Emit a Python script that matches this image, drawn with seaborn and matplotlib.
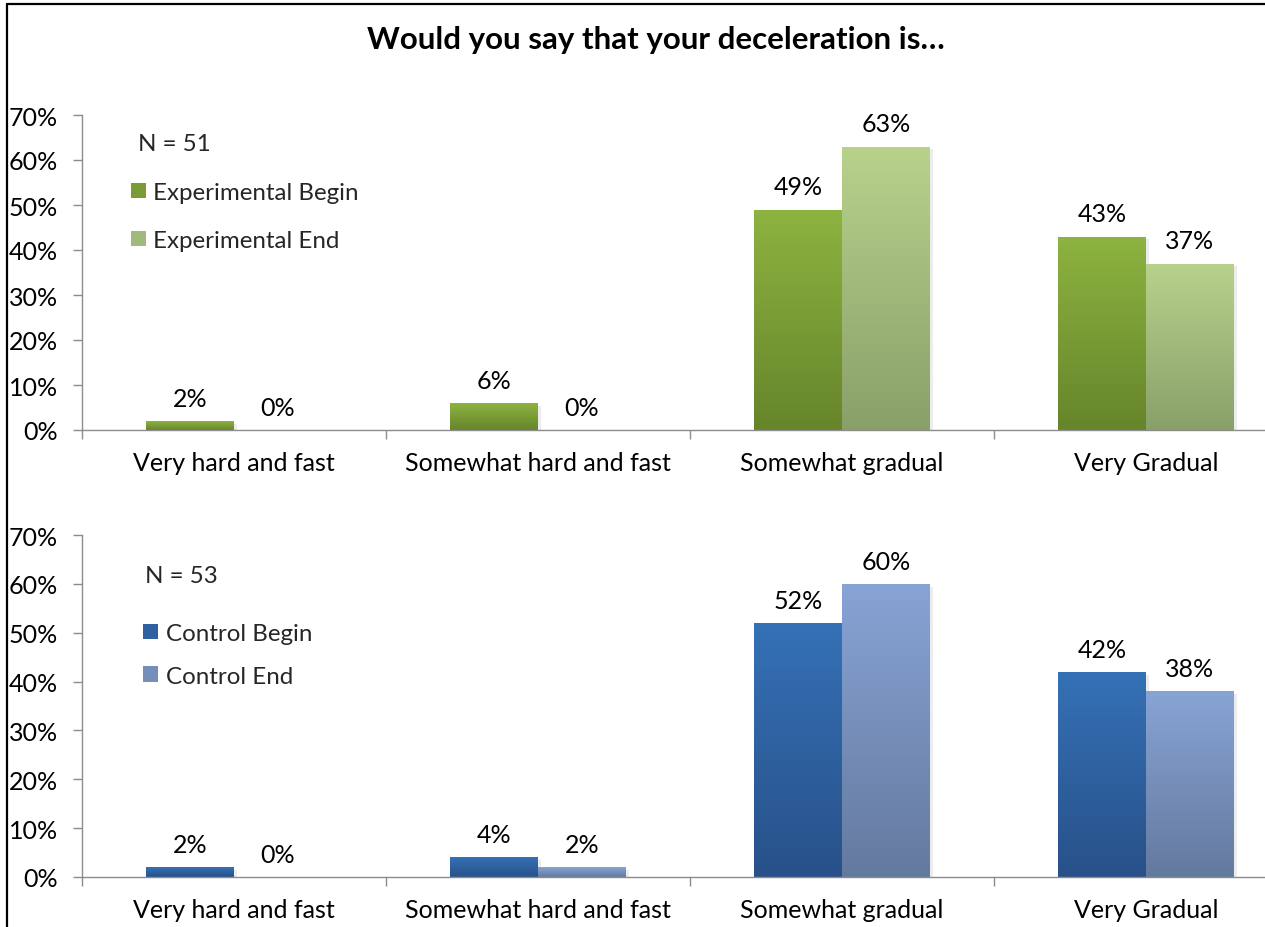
import numpy as np
import pandas as pd
import matplotlib
matplotlib.use("Agg")
import matplotlib.pyplot as plt
import seaborn as sns
from matplotlib.lines import Line2D
from matplotlib.patches import Patch
from matplotlib import patheffects as pe

# Survey answers: share of respondents per answer (percent)
categories = ["Very hard and fast", "Somewhat hard and fast", "Somewhat gradual", "Very Gradual"]
exp_begin = [2, 6, 49, 43]
exp_end = [0, 0, 63, 37]
ctl_begin = [2, 4, 52, 42]
ctl_end = [0, 2, 60, 38]
exp_n = 51
ctl_n = 53
title = "Would you say that your deceleration is…"
y_ticks = [0, 10, 20, 30, 40, 50, 60, 70]

# top/bottom gradient colours per series
exp_colors = {"Experimental Begin": ((0.553, 0.702, 0.251), (0.400, 0.522, 0.169)),
              "Experimental End": ((0.722, 0.824, 0.549), (0.537, 0.627, 0.412))}
ctl_colors = {"Control Begin": ((0.208, 0.443, 0.714), (0.157, 0.318, 0.537)),
              "Control End": ((0.533, 0.643, 0.835), (0.392, 0.475, 0.620))}

sns.set_style("white")
plt.rcParams["font.family"] = ["Lato", "DejaVu Sans"]
FS = 18
LEG_FS = 17.4

fig = plt.figure(figsize=(12.65, 9.28), dpi=100)
ax_top = fig.add_axes([82 / 1265, 497 / 928, 1216 / 1265, 315 / 928])
ax_bot = fig.add_axes([82 / 1265, 50 / 928, 1216 / 1265, 342 / 928])


def long_frame(names, series):
    rows = []
    for name, vals in zip(names, series):
        for cat, v in zip(categories, vals):
            rows.append({"answer": cat, "series": name, "value": v})
    return pd.DataFrame(rows)


def draw_panel(ax, colors, series, n, legend_anchor, legend_spacing, n_pos):
    names = list(colors.keys())
    df = long_frame(names, series)
    palette = {k: v[0] for k, v in colors.items()}
    sns.barplot(data=df, x="answer", y="value", hue="series", order=categories,
                hue_order=names, palette=palette, width=0.578, saturation=1,
                legend=False, ax=ax, linewidth=0)

    for container, name, vals in zip(ax.containers, names, series):
        top, bottom = colors[name]
        t = np.linspace(0, 1, 128)[:, None]
        grad = (1 - t) * np.array(top) + t * np.array(bottom)
        for bar, v in zip(container, vals):
            h = bar.get_height()
            x0, w = bar.get_x(), bar.get_width()
            if h > 0:
                bar.set_path_effects([pe.SimplePatchShadow(offset=(2, -2), alpha=0.15, shadow_rgbFace="gray"),
                                      pe.Normal()])
                img = ax.imshow(grad[:, None, :], extent=(x0, x0 + w, 0, h), origin="upper",
                                aspect="auto", interpolation="bilinear",
                                zorder=bar.get_zorder() + 0.1)
                img.set_clip_path(bar)
            ax.annotate(f"{v}%", (x0 + w / 2, h), xytext=(0, 8), textcoords="offset points",
                        ha="center", va="bottom", fontsize=FS, color="black")

    ax.set_xlim(-0.5, 3.5)
    ax.set_ylim(0, 70)
    ax.set_yticks(y_ticks)
    ax.set_yticklabels([f"{v}%" for v in y_ticks])
    ax.set_xticks(range(len(categories)))
    ax.set_xticklabels(categories)
    ax.set_xticks([i - 0.5 for i in range(len(categories) + 1)], minor=True)
    ax.set_xlabel("")
    ax.set_ylabel("")
    for s in ("top", "right"):
        ax.spines[s].set_visible(False)
    for s in ("left", "bottom"):
        ax.spines[s].set_color("#8c8c8c")
        ax.spines[s].set_linewidth(1.0)
    ax.tick_params(axis="y", which="major", direction="out", length=6.5, width=1,
                   color="#8c8c8c", pad=11, labelsize=FS, labelcolor="black", left=True)
    ax.tick_params(axis="x", which="major", length=0, pad=15, labelsize=FS, labelcolor="black")
    ax.tick_params(axis="x", which="minor", direction="out", length=6.5, width=1,
                   color="#8c8c8c", bottom=True)

    handles = [Patch(facecolor=tuple((a + b) / 2 for a, b in zip(*colors[k])), edgecolor="none")
               for k in names]
    ax.legend(handles=handles, labels=names, loc="upper left", bbox_to_anchor=legend_anchor,
              frameon=False, fontsize=LEG_FS, handlelength=0.64, handleheight=0.62,
              handletextpad=0.3, labelspacing=legend_spacing, borderpad=0, borderaxespad=0)
    ax.text(n_pos[0], n_pos[1], f"N = {n}", transform=ax.transAxes, fontsize=LEG_FS,
            ha="left", va="center")


draw_panel(ax_top, exp_colors, [exp_begin, exp_end], exp_n, (0.040, 0.787), 1.12, (0.046, 0.911))
draw_panel(ax_bot, ctl_colors, [ctl_begin, ctl_end], ctl_n, (0.050, 0.743), 0.9, (0.052, 0.883))

fig.text(656 / 1265, 1 - 40 / 928, title, ha="center", va="center",
         fontsize=22.5, fontweight="bold", color="black")

# outer chart frame (left and top edges)
fig.add_artist(Line2D([7 / 1265, 7 / 1265], [0, 1 - 5 / 928], transform=fig.transFigure,
                      color="black", lw=1.6))
fig.add_artist(Line2D([7 / 1265, 1], [1 - 5 / 928, 1 - 5 / 928], transform=fig.transFigure,
                      color="black", lw=1.6))

fig.savefig("out.png", dpi=100, facecolor="white")
